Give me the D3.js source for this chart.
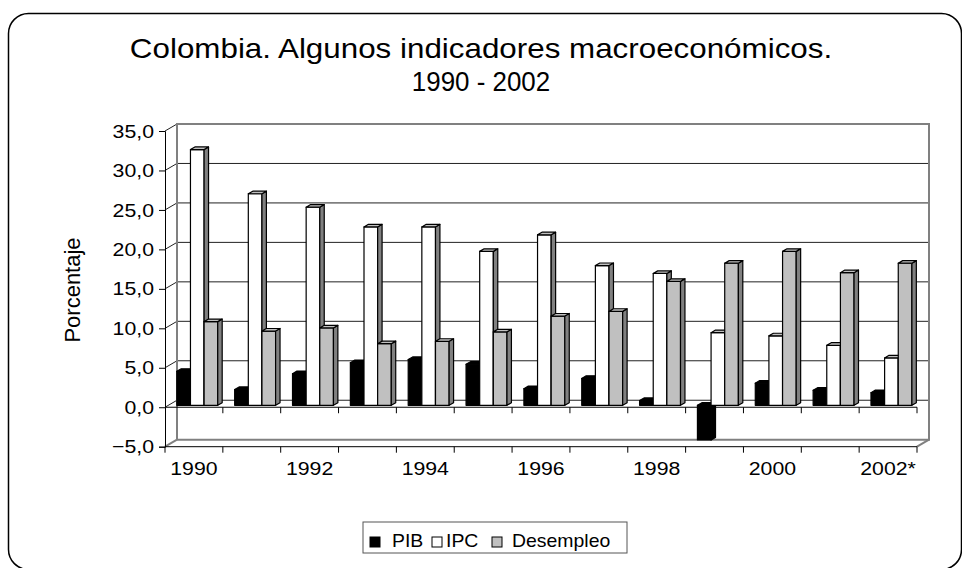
<!DOCTYPE html>
<html>
<head>
<meta charset="utf-8">
<script src="https://cdn.jsdelivr.net/npm/d3@7"></script>
<style>
  body { margin: 0; background: #fff; }
  text { font-family: "Liberation Sans", Arial, sans-serif; fill: #000; }
</style>
</head>
<body>
<svg class="chart"></svg>
<script>
const size = {w: 962, h: 568};

// data
const years = ['1990', '1991', '1992', '1993', '1994', '1995', '1996',
               '1997', '1998', '1999', '2000', '2001', '2002*'];
const yearLabels = ['1990', '1992', '1994', '1996', '1998', '2000', '2002*'];
const series = ['PIB', 'IPC', 'Desempleo'];
const pib = [4.3, 2.0, 4.0, 5.4, 5.8, 5.2, 2.1, 3.4, 0.6, -4.4, 2.8, 1.9, 1.6];
const ipc = [32.4, 26.8, 25.1, 22.6, 22.6, 19.5, 21.6, 17.7, 16.7, 9.2, 8.8, 7.6, 6.0];
const desempleo = [10.6, 9.4, 9.8, 7.8, 8.1, 9.3, 11.3, 11.9, 15.7, 18.0, 19.5, 16.8, 18.0];
const yTicks = [-5, 0, 5, 10, 15, 20, 25, 30, 35];

const values = {PIB: pib, IPC: ipc, Desempleo: desempleo};
const faces = {
    PIB: {front: '#000', side: '#000', top: '#000'},
    IPC: {front: '#fff', side: '#808080', top: '#c0c0c0'},
    Desempleo: {front: '#c0c0c0', side: '#808080', top: '#c0c0c0'}
};

// 3d projection: the back of the box is shifted right and up
const depth = {dx: 12, dy: -7};
const barDepth = [0.28, 0.65];   // bars sit between these depth fractions

// the text in the picture is a bit wider than plain Arial
const sx = 1.12;

const svg = d3.select('svg.chart')
    .attr('width', size.w)
    .attr('height', size.h);

const x = d3.scaleBand()
    .domain(years)
    .range([165, 917]);

const xs = d3.scaleBand()
    .domain(series)
    .range([0, x.bandwidth()])
    .paddingOuter(0.62);

const y = d3.scaleLinear()
    .domain([-5, 35])
    .range([446.7, 131]);

const fmt = d => d3.format('.1f')(d).replace('.', ',');

// put a text at (tx, ty) and widen it around that anchor
function wide(sel, tx, ty, k = sx) {
    return sel.attr('x', tx / k).attr('y', ty)
        .attr('transform', `scale(${k},1)`);
}

// outer rounded border
svg.append('rect')
    .attr('x', 8.5).attr('y', 13.5)
    .attr('width', 953).attr('height', 556)
    .attr('rx', 20)
    .attr('fill', 'none')
    .attr('stroke', '#000')
    .attr('stroke-width', 1.5);

// title
svg.append('text')
    .call(wide, 481, 58)
    .attr('text-anchor', 'middle')
    .attr('font-size', 28)
    .text('Colombia. Algunos indicadores macroeconómicos.');
svg.append('text')
    .call(wide, 481, 91, 0.96)
    .attr('text-anchor', 'middle')
    .attr('font-size', 27)
    .text('1990 - 2002');

const xL = x.range()[0], xR = x.range()[1];
const px = (xx, f) => xx + depth.dx * f;
const py = (v, f) => y(v) + depth.dy * f;

// back wall gridlines
svg.append('g')
    .selectAll('line')
    .data(yTicks.filter(d => d > -5 && d < 35))
    .join('line')
    .attr('x1', px(xL, 1)).attr('x2', px(xR, 1))
    .attr('y1', d => py(d, 1)).attr('y2', d => py(d, 1))
    .attr('stroke', '#222');

// diagonals from the value axis to the wall
svg.append('g')
    .selectAll('line')
    .data(yTicks.filter(d => d > -5))
    .join('line')
    .attr('x1', xL).attr('x2', px(xL, 1))
    .attr('y1', d => y(d)).attr('y2', d => py(d, 1))
    .attr('stroke', '#222');

// wall edges in grey
const wall = svg.append('g')
    .attr('fill', 'none')
    .attr('stroke', '#808080')
    .attr('stroke-width', 2);
wall.append('path')
    .attr('d', `M${px(xL, 1)},${py(-5, 1)}V${py(35, 1)}H${px(xR, 1)}V${py(-5, 1)}H${px(xL, 1)}`);
wall.append('line')
    .attr('x1', xL).attr('y1', y(-5))
    .attr('x2', px(xL, 1)).attr('y2', py(-5, 1));
wall.append('line')
    .attr('x1', xR).attr('y1', y(-5))
    .attr('x2', px(xR, 1)).attr('y2', py(-5, 1));

// value axis
const yAxis = svg.append('g')
    .attr('transform', `translate(${xL},0)`)
    .call(d3.axisLeft(y).tickValues(yTicks).tickFormat(fmt).tickSize(6).tickPadding(5));
yAxis.select('.domain').attr('stroke', '#000');
yAxis.selectAll('.tick line').attr('stroke', '#000');
yAxis.selectAll('text')
    .attr('font-size', 19)
    .attr('font-family', '"Liberation Sans", Arial, sans-serif')
    .attr('x', -11 / sx)
    .attr('transform', `scale(${sx},1)`);

svg.append('text')
    .attr('transform', 'translate(80,290) rotate(-90)')
    .attr('text-anchor', 'middle')
    .attr('font-size', 22)
    .text('Porcentaje');

// category axis at zero and at the floor
const catTicks = years.map(d => x(d)).concat([xR]);
[0, -5].forEach(function(v) {
    const g = svg.append('g');
    g.append('line')
        .attr('x1', xL).attr('x2', xR)
        .attr('y1', y(v)).attr('y2', y(v))
        .attr('stroke', '#000');
    g.selectAll('line.tick')
        .data(v === 0 ? catTicks.slice(1) : catTicks)
        .join('line')
        .classed('tick', true)
        .attr('x1', d => d).attr('x2', d => d)
        .attr('y1', y(v)).attr('y2', y(v) + 6)
        .attr('stroke', '#000');
});

svg.append('g')
    .selectAll('text')
    .data(yearLabels)
    .join('text')
    .each(function(d) {
        d3.select(this).call(wide, x(d) + x.bandwidth() / 2, 475);
    })
    .attr('text-anchor', 'middle')
    .attr('font-size', 19)
    .text(d => d);

// bars as 3d boxes, drawn left to right
const bars = [];
years.forEach(function(yr, i) {
    series.forEach(function(s) {
        bars.push({year: yr, series: s, value: values[s][i]});
    });
});

const f0 = barDepth[0], bd = barDepth[1] - barDepth[0];
const bdx = depth.dx * bd, bdy = depth.dy * bd;

const barG = svg.append('g')
    .selectAll('g')
    .data(bars)
    .join('g')
    .attr('stroke', '#000')
    .attr('stroke-width', 1.2)
    .attr('stroke-linejoin', 'round');

barG.each(function(d) {
    const g = d3.select(this);
    const x0 = px(x(d.year) + xs(d.series), f0);
    const w = xs.bandwidth();
    const yt = py(Math.max(d.value, 0), f0);
    const yb = py(Math.min(d.value, 0), f0);
    const c = faces[d.series];

    g.append('rect')
        .attr('x', x0).attr('y', yt)
        .attr('width', w).attr('height', yb - yt)
        .attr('fill', c.front);
    g.append('path')
        .attr('d', `M${x0 + w},${yt}L${x0 + w + bdx},${yt + bdy}L${x0 + w + bdx},${yb + bdy}L${x0 + w},${yb}Z`)
        .attr('fill', c.side);
    g.append('path')
        .attr('d', `M${x0},${yt}L${x0 + w},${yt}L${x0 + w + bdx},${yt + bdy}L${x0 + bdx},${yt + bdy}Z`)
        .attr('fill', c.top);
});

// legend
const legend = svg.append('g');
legend.append('rect')
    .attr('x', 363).attr('y', 522)
    .attr('width', 264).attr('height', 31)
    .attr('fill', '#fff')
    .attr('stroke', '#555');

const legendBox = [370, 432, 492];
const legendText = [392, 446, 512];
const legendItem = legend.selectAll('g.item')
    .data(series)
    .join('g')
    .classed('item', true);
legendItem.append('rect')
    .attr('x', (d, i) => legendBox[i]).attr('y', 537)
    .attr('width', 10).attr('height', 10)
    .attr('fill', d => faces[d].front)
    .attr('stroke', '#000');
legendItem.append('text')
    .each(function(d, i) {
        d3.select(this).call(wide, legendText[i], 547, 1.08);
    })
    .attr('font-size', 18)
    .text(d => d);
</script>
</body>
</html>
